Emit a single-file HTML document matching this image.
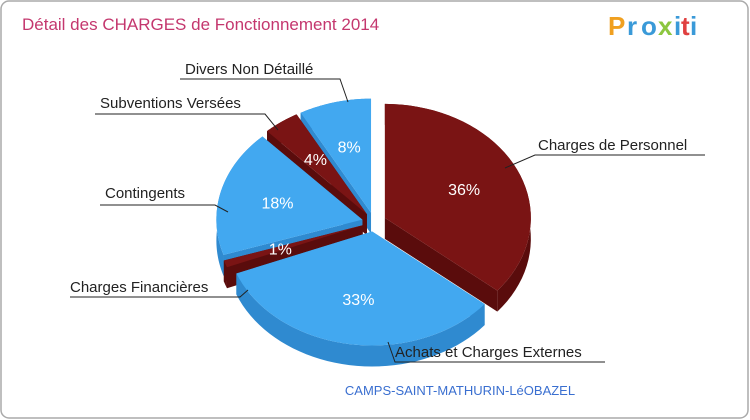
<!DOCTYPE html>
<html><head><meta charset="utf-8">
<style>
body{margin:0;background:#fff;}
#wrap{position:relative;width:750px;height:420px;overflow:hidden;font-family:"Liberation Sans",sans-serif;}
</style></head>
<body>
<div id="wrap">
<svg id="svg" width="750" height="420" xmlns="http://www.w3.org/2000/svg">
 <rect x="1" y="1" width="747" height="417" rx="8" fill="#fff" stroke="#aaa" stroke-width="1.5"/>
 <text x="22" y="30" font-size="17" fill="#c4376e">Détail des CHARGES de Fonctionnement 2014</text>
 <g font-size="26" font-weight="bold">
  <text x="608" y="35" fill="#f0a020">P</text><text x="627" y="35" fill="#3a9ad8">r</text><text x="641" y="35" fill="#3a9ad8">o</text><text x="658" y="35" fill="#8cc63f">x</text><text x="674" y="35" fill="#3a9ad8">i</text><text x="681" y="35" fill="#e04040">t</text><text x="690" y="35" fill="#3a9ad8">i</text>
 </g>
 <g id="pie"></g>
 <g id="labels" font-size="15" fill="#222"></g>
 <text x="460" y="395" font-size="13" fill="#3a6fd0" text-anchor="middle">CAMPS-SAINT-MATHURIN-LéOBAZEL</text>
</svg>
</div>
<script>
const categories=["Charges de Personnel","Achats et Charges Externes","Charges Financières","Contingents","Subventions Versées","Divers Non Détaillé"];
const values=[36,33,1,18,4,8];
const pctLabels=["36%","33%","1%","18%","4%","8%"];
const sliceColors=["red","blue","red","blue","red","blue"];

const NS="http://www.w3.org/2000/svg";
const cx=374,cy=222,rx=146,ry=114,depth=21,expl=12;
const pal={red:{top:"#7a1414",side:"#5a0c0c"},blue:{top:"#42a8f0",side:"#2f8ad0"}};
const total=values.reduce((a,b)=>a+b,0);
function pt(a,r,ox,oy,dy){return [cx+ox+r*rx*Math.sin(a),cy+oy-r*ry*Math.cos(a)+(dy||0)];}
const pie=document.getElementById('pie');
function mk(tag,attrs){const e=document.createElementNS(NS,tag);for(const k in attrs)e.setAttribute(k,attrs[k]);return e;}
let slices=[],acc=0;
values.forEach((v,i)=>{const a0=acc/total*2*Math.PI;acc+=v;const a1=acc/total*2*Math.PI;const m=(a0+a1)/2;
 slices.push({i,a0,a1,m,ox:expl*Math.sin(m),oy:-expl*Math.cos(m)*0.8});});
function arcPts(s,dy,rev){const n=40,p=[];for(let k=0;k<=n;k++){const a=s.a0+(s.a1-s.a0)*k/n;p.push(pt(a,1,s.ox,s.oy,dy));}return rev?p.reverse():p;}
const order=[...slices].sort((a,b)=>(-Math.cos(a.m))-(-Math.cos(b.m)));
order.forEach(s=>{
 const c=pal[sliceColors[s.i]];
 const g=mk('g',{});
 
 
 const c0=pt(0,0,s.ox,s.oy),c1=pt(0,0,s.ox,s.oy,depth);
 [s.a0,s.a1].forEach(a=>{const e0=pt(a,1,s.ox,s.oy),e1=pt(a,1,s.ox,s.oy,depth);
  g.appendChild(mk('polygon',{points:[c0,e0,e1,c1].map(p=>p.join(',')).join(' '),fill:c.side}));});
 const top=arcPts(s,0,false),bot=arcPts(s,depth,true);
 g.appendChild(mk('polygon',{points:top.concat(bot).map(p=>p.join(',')).join(' '),fill:c.side}));
 pie.appendChild(g);
});
slices.forEach(s=>{
 const c=pal[sliceColors[s.i]];
 const p=[pt(0,0,s.ox,s.oy)].concat(arcPts(s,0,false));
 const poly=mk('polygon',{points:p.map(q=>q.join(',')).join(' '),fill:c.top});
 
 
 pie.appendChild(poly);
 const lp=pt(s.m,0.6,s.ox,s.oy);
 const t=mk('text',{x:lp[0],y:lp[1]+6,'text-anchor':'middle','font-size':16,fill:'#fff'});
 
 
 t.textContent=pctLabels[s.i];pie.appendChild(t);
});
const lab=document.getElementById('labels');
const labelPos=[[538,150,'start',[[705,155],[535,155],[505,168]]],
 [395,357,'start',[[605,362],[395,362],[388,342]]],
 [70,292,'start',[[70,297],[240,297],[248,290]]],
 [105,198,'start',[[100,205],[215,205],[228,212]]],
 [100,108,'start',[[95,114],[265,114],[278,130]]],
 [185,74,'start',[[180,79],[340,79],[348,102]]]];
labelPos.forEach((L,i)=>{
 const pl=mk('polyline',{points:L[3].map(p=>p.join(',')).join(' '),fill:'none',stroke:'#222','stroke-width':1});
 
 
 lab.appendChild(pl);
 const t=mk('text',{x:L[0],y:L[1],'text-anchor':L[2]});
 
 
 t.textContent=categories[i];lab.appendChild(t);
});
</script>
</body></html>
